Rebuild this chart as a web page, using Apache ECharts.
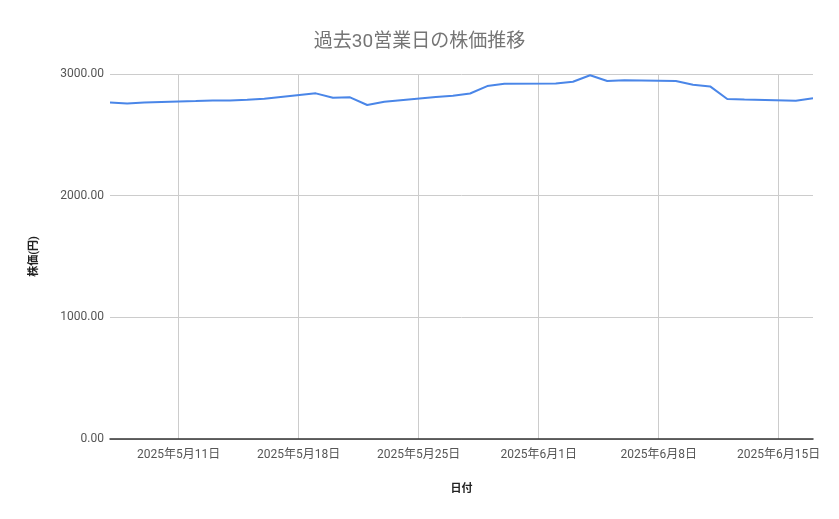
<!DOCTYPE html>
<html>
<head>
<meta charset="utf-8">
<script src="https://cdn.jsdelivr.net/npm/echarts@6/dist/echarts.min.js"></script>
<style>
  html, body { margin: 0; padding: 0; background: #fff; }
  #chart { width: 839px; height: 519px; }
</style>
</head>
<body>
<div id="chart"></div>
<script>
// 過去30営業日の株価
var dates = ['2025-05-07','2025-05-08','2025-05-09','2025-05-12','2025-05-13','2025-05-14','2025-05-15','2025-05-16',
  '2025-05-19','2025-05-20','2025-05-21','2025-05-22','2025-05-23','2025-05-26','2025-05-27','2025-05-28',
  '2025-05-29','2025-05-30','2025-06-02','2025-06-03','2025-06-04','2025-06-05','2025-06-06','2025-06-09',
  '2025-06-10','2025-06-11','2025-06-12','2025-06-13','2025-06-16','2025-06-17'];
var prices = [2765, 2757, 2765, 2778, 2783, 2783, 2788, 2796,
  2841, 2805, 2808, 2745, 2772, 2811, 2821, 2840,
  2901, 2920, 2921, 2936, 2990, 2943, 2948, 2942,
  2912, 2898, 2794, 2790, 2780, 2800];
var tickDates = ['2025-05-11','2025-05-18','2025-05-25','2025-06-01','2025-06-08','2025-06-15'];
var yTicks = [0, 1000, 2000, 3000];

function ts(s) {
  var p = s.split('-');
  return new Date(+p[0], +p[1] - 1, +p[2]).getTime();
}

var font = 'Roboto, "Noto Sans CJK JP", sans-serif';
var chart = echarts.init(document.getElementById('chart'));

var option = {
  animation: false,
  title: {
    text: '過去30営業日の株価推移',
    left: 'center',
    top: 28,
    textStyle: { color: '#757575', fontSize: 19, fontWeight: 'normal', fontFamily: font }
  },
  grid: { left: 110, right: 26, top: 74, bottom: 80 },
  xAxis: {
    type: 'value',
    min: ts(dates[0]),
    max: ts(dates[dates.length - 1]),
    name: '日付',
    nameLocation: 'middle',
    nameGap: 45,
    nameTextStyle: { color: '#222', fontSize: 11, fontWeight: 'bold', fontFamily: font },
    axisLine: { show: true, onZero: false, lineStyle: { color: '#333', width: 1.5 } },
    axisTick: { show: false, customValues: tickDates.map(ts) },
    axisLabel: {
      customValues: tickDates.map(ts),
      color: '#555', fontSize: 12, fontFamily: font, margin: 10,
      formatter: function (v) {
        var d = new Date(v);
        return d.getFullYear() + '年' + (d.getMonth() + 1) + '月' + d.getDate() + '日';
      }
    },
    splitLine: { show: true, lineStyle: { color: '#cccccc', width: 1 } }
  },
  yAxis: {
    type: 'value',
    min: yTicks[0],
    max: yTicks[yTicks.length - 1],
    interval: 1000,
    name: '株価(円)',
    nameLocation: 'middle',
    nameGap: 70,
    nameTextStyle: { color: '#222', fontSize: 11, fontWeight: 'bold', fontFamily: font },
    axisLine: { show: false },
    axisTick: { show: false },
    axisLabel: {
      color: '#555', fontSize: 12, fontFamily: font, margin: 6,
      formatter: function (v) { return v.toFixed(2); }
    },
    splitLine: { lineStyle: { color: '#cccccc', width: 1 } }
  },
  series: [{
    name: '株価',
    type: 'line',
    data: dates.map(function (d, i) { return [ts(d), prices[i]]; }),
    showSymbol: false,
    lineStyle: { color: '#4a86e8', width: 2 },
    itemStyle: { color: '#4a86e8' }
  }]
};
chart.setOption(option);
</script>
</body>
</html>
